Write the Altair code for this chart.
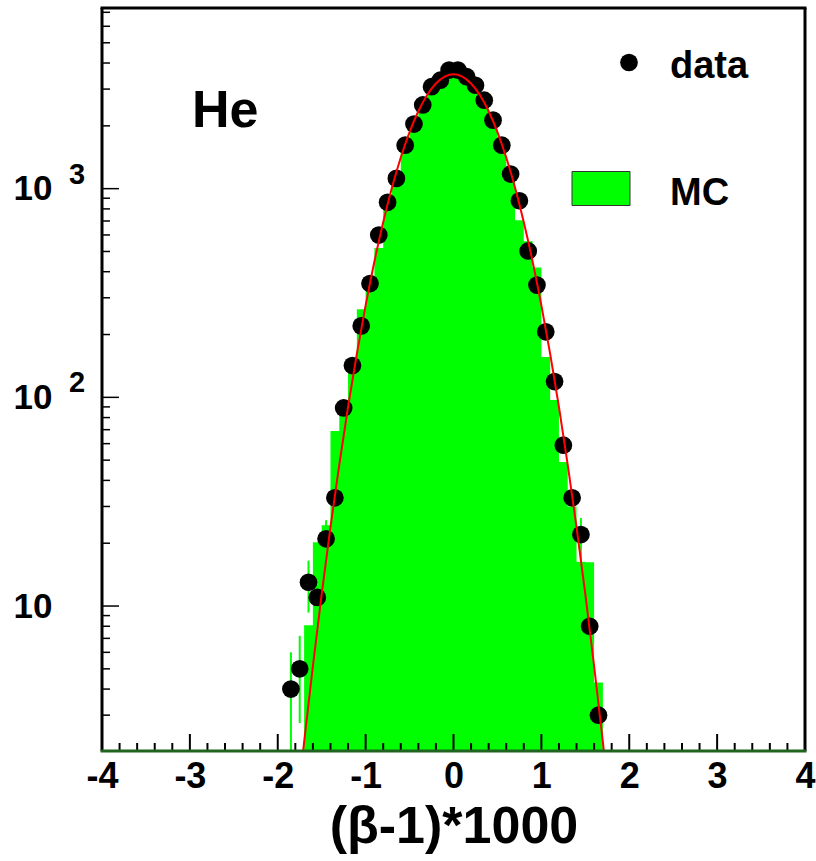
import altair as alt
import pandas as pd

FONT = "Liberation Sans"

# Plot frame (pixels) and axis ranges
W, H = 703, 743
X_MIN, X_MAX = -4, 4
Y_MIN, Y_MAX = 2.02, 7340
BIN_W = 0.1

# Data: counts per 0.1-wide bin of (beta-1)*1000
data_x = [-1.85, -1.75, -1.65, -1.55, -1.45, -1.35, -1.25, -1.15, -1.05, -0.95,
          -0.85, -0.75, -0.65, -0.55, -0.45, -0.35, -0.25, -0.15, -0.05, 0.05,
          0.15, 0.25, 0.35, 0.45, 0.55, 0.65, 0.75, 0.85, 0.95, 1.05,
          1.15, 1.25, 1.35, 1.45, 1.55, 1.65]
data_n = [4, 5, 13, 11, 21, 33, 89, 142, 220, 351,
          599, 860, 1120, 1615, 2040, 2520, 3080, 3310, 3700, 3700,
          3440, 3130, 2655, 2130, 1615, 1175, 875, 503, 345, 206,
          119, 59, 33, 22, 8, 3]

# MC histogram (bin centres, contents)
mc_x = [-1.65, -1.55, -1.45, -1.35, -1.25, -1.15, -1.05, -0.95, -0.85, -0.75,
        -0.65, -0.55, -0.45, -0.35, -0.25, -0.15, -0.05, 0.05, 0.15, 0.25,
        0.35, 0.45, 0.55, 0.65, 0.75, 0.85, 0.95, 1.05, 1.15, 1.25,
        1.35, 1.45, 1.55, 1.65]
mc_n = [8.1, 20.2, 24.4, 69, 90, 131, 264, 360, 519, 840,
        1200, 1620, 2100, 2580, 3000, 3330, 3500, 3500, 3330, 3000,
        2580, 2100, 1630, 1200, 706, 560, 419, 156, 97, 49,
        30, 16.3, 16.2, 4.3]

# MC error bars in the tails
mcerr_x = [-1.85, -1.75, -1.65, -1.45, 1.45]
mcerr_lo = [1.5, 2.75, 9.3, 22, 16]
mcerr_hi = [6.0, 7.2, 16.5, 25.8, 26.4]

# Gaussian fit curve
fit_x = [-1.8, -1.7, -1.6, -1.5, -1.4, -1.3, -1.2, -1.1, -1.0, -0.9,
         -0.8, -0.7, -0.6, -0.5, -0.4, -0.3, -0.2, -0.1, 0.0, 0.1,
         0.2, 0.3, 0.4, 0.5, 0.6, 0.7, 0.8, 0.9, 1.0, 1.1,
         1.2, 1.3, 1.4, 1.5, 1.6, 1.7, 1.8]
fit_y = [0.91, 2.23, 5.16, 11.4, 23.9, 47.5, 89.9, 161.5, 276, 448,
         691, 1013, 1411, 1868, 2349, 2808, 3190, 3444, 3533, 3444,
         3190, 2808, 2349, 1868, 1411, 1013, 691, 448, 276, 161.5,
         89.9, 47.5, 23.9, 11.4, 5.16, 2.23, 0.91]

# Axis ticks
x_labels = [-4, -3, -2, -1, 0, 1, 2, 3, 4]
x_major = [-3, -2, -1, 0, 1, 2, 3]
x_minor = [round(-4 + 0.2 * i, 1) for i in range(1, 40) if (i % 5) != 0]
y_major = [10, 100, 1000]
y_minor = [m * 10 ** e for e in range(0, 4) for m in range(2, 10)
           if Y_MIN < m * 10 ** e < Y_MAX]
y_labels = [1000, 100]
y_sup = ["3", "2"]

x_scale = alt.Scale(domain=[X_MIN, X_MAX], nice=False, zero=False)
y_scale = alt.Scale(type="log", domain=[Y_MIN, Y_MAX], nice=False)

x_axis = alt.Axis(
    values=x_labels,
    labelExpr="datum.value < 0 ? '-' + abs(datum.value) : '' + datum.value",
    ticks=False, tickSize=0, domain=False, grid=False,
    labelFont=FONT, labelFontSize=36, labelFontWeight="bold", labelColor="black",
    labelPadding=8, labelFlush=False, labelOverlap=False,
    title="(β-1)*1000", titleFont=FONT, titleFontSize=52, titleFontWeight="bold",
    titleColor="black", titlePadding=7,
)
y_axis = alt.Axis(
    values=y_major, labelExpr="'10'",
    ticks=False, tickSize=0, domain=False, grid=False,
    labelFont=FONT, labelFontSize=35, labelFontWeight="bold", labelColor="black",
    labelPadding=50, labelOverlap=False, title=None,
)


def xq(field):
    return alt.X(field, type="quantitative", scale=x_scale, axis=x_axis)


def yq(field):
    return alt.Y(field, type="quantitative", scale=y_scale, axis=y_axis)


one = pd.DataFrame({"k": [0]})

# MC histogram as one stepped area
mc_df = pd.DataFrame({"x": [c - BIN_W / 2 for c in mc_x] + [mc_x[-1] + BIN_W / 2],
                      "n": mc_n + [mc_n[-1]]})
mc_df["base"] = Y_MIN
mc = alt.Chart(mc_df).mark_area(color="#00ff00", interpolate="step-after", clip=True).encode(
    x=xq("x"), y=yq("n"), y2="base:Q")

err_df = pd.DataFrame({"x": mcerr_x, "lo": mcerr_lo, "hi": mcerr_hi})
mc_err = alt.Chart(err_df).mark_rule(color="#00ff00", strokeWidth=2, clip=True).encode(
    x=xq("x"), y=yq("lo"), y2="hi:Q")

pts = alt.Chart(pd.DataFrame({"x": data_x, "n": data_n})).mark_circle(
    color="black", opacity=1, size=314).encode(x=xq("x"), y=yq("n"))

fit = alt.Chart(pd.DataFrame({"x": fit_x, "y": fit_y})).mark_line(
    color="#ff0000", strokeWidth=2, interpolate="monotone", clip=True).encode(
    x=xq("x"), y=yq("y"))

# Inward ticks
xt_major = alt.Chart(pd.DataFrame({"x": x_major})).mark_rule(color="black", strokeWidth=2).encode(
    x=xq("x"), y=alt.value(H), y2=alt.value(H - 17))
xt_minor = alt.Chart(pd.DataFrame({"x": x_minor})).mark_rule(color="black", strokeWidth=2).encode(
    x=xq("x"), y=alt.value(H), y2=alt.value(H - 8))
yt_major = alt.Chart(pd.DataFrame({"v": y_major})).mark_rule(color="black", strokeWidth=1.5).encode(
    y=yq("v"), x=alt.value(0), x2=alt.value(17))
yt_minor = alt.Chart(pd.DataFrame({"v": y_minor})).mark_rule(color="black", strokeWidth=1.5).encode(
    y=yq("v"), x=alt.value(0), x2=alt.value(8))

# Superscript exponents on the y labels
sup = alt.Chart(pd.DataFrame({"v": y_labels, "s": y_sup})).mark_text(
    font=FONT, fontSize=29, fontWeight="bold", color="black", align="center",
    baseline="middle", dy=-14).encode(
    y=yq("v"), x=alt.value(-25), text="s:N")

# Frame
frame_l = alt.Chart(one).mark_rule(color="black", strokeWidth=3).encode(
    x=alt.value(0), y=alt.value(0), y2=alt.value(H))
frame_r = alt.Chart(one).mark_rule(color="black", strokeWidth=3).encode(
    x=alt.value(W), y=alt.value(0), y2=alt.value(H))
frame_t = alt.Chart(one).mark_rule(color="black", strokeWidth=3).encode(
    y=alt.value(0), x=alt.value(-1.5), x2=alt.value(W + 1.5))
frame_b = alt.Chart(one).mark_rule(color="#1f641f", strokeWidth=3).encode(
    y=alt.value(H), x=alt.value(-1.5), x2=alt.value(W + 1.5))

# Labels and legend
he = alt.Chart(one).mark_text(text="He", font=FONT, fontSize=52, fontWeight="bold",
                              color="black", align="left", baseline="alphabetic").encode(
    x=alt.value(90), y=alt.value(118.5))
leg_pt = alt.Chart(one).mark_circle(color="black", opacity=1, size=314).encode(
    x=alt.value(527), y=alt.value(54.5))
leg_data = alt.Chart(one).mark_text(text="data", font=FONT, fontSize=38, fontWeight="bold",
                                    color="black", align="left", baseline="alphabetic").encode(
    x=alt.value(568), y=alt.value(69.5))
leg_box = alt.Chart(one).mark_rect(color="#00ff00", stroke="#333333", strokeWidth=1).encode(
    x=alt.value(470), x2=alt.value(528), y=alt.value(163.5), y2=alt.value(197.5))
leg_mc = alt.Chart(one).mark_text(text="MC", font=FONT, fontSize=38, fontWeight="bold",
                                  color="black", align="left", baseline="alphabetic").encode(
    x=alt.value(568), y=alt.value(196.5))

chart = alt.layer(
    mc, mc_err, pts, fit,
    xt_major, xt_minor, yt_major, yt_minor, sup,
    frame_l, frame_r, frame_t, frame_b,
    he, leg_pt, leg_data, leg_box, leg_mc,
).properties(
    width=W, height=H,
    autosize=alt.AutoSizeParams(type="none"),
    padding={"left": 102, "top": 8, "right": 11, "bottom": 110},
    background="white",
).configure_view(stroke=None)

chart.save("out.html", embed_options={"renderer": "svg", "actions": False})
